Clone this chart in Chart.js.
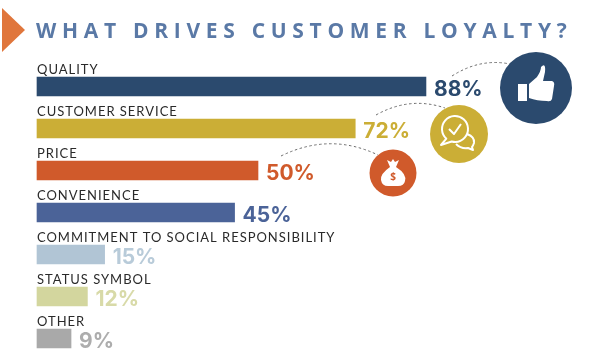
<!DOCTYPE html>
<html>
<head>
<meta charset="utf-8">
<style>
  html, body { margin: 0; padding: 0; background: #fff; }
  #wrap { width: 602px; height: 352px; }
</style>
<script src="https://cdn.jsdelivr.net/npm/chart.js@4"></script>
</head>
<body>
<div id="wrap"><canvas id="loyaltyChart" width="602" height="352"></canvas></div>
<script>
const titleText = "WHAT DRIVES CUSTOMER LOYALTY?";
const categories = ["QUALITY", "CUSTOMER SERVICE", "PRICE", "CONVENIENCE", "COMMITMENT TO SOCIAL RESPONSIBILITY", "STATUS SYMBOL", "OTHER"];
// printed percentages
const percentLabels = ["88%", "72%", "50%", "45%", "15%", "12%", "9%"];
// bar lengths as drawn, the small bars are shorter than their printed numbers
const barLengths = [88, 72, 50, 44.7, 15.3, 11.4, 7.7];
const barColors = ["#2b4a6e", "#cbae36", "#d05a2b", "#4b6398", "#b1c5d5", "#d3d69e", "#a9a9a9"];
const labelColors = ["#2b4a6e", "#cbae36", "#d05a2b", "#4b6398", "#b8cbd9", "#d8daa8", "#adadad"];

function dashedArc(ctx, x0, y0, cx, cy, x1, y1) {
  ctx.save();
  ctx.strokeStyle = "#6b6b6b";
  ctx.lineWidth = 1;
  ctx.setLineDash([2.5, 2.5]);
  ctx.beginPath();
  ctx.moveTo(x0, y0);
  ctx.quadraticCurveTo(cx, cy, x1, y1);
  ctx.stroke();
  ctx.restore();
}

function circle(ctx, x, y, r, color) {
  ctx.fillStyle = color;
  ctx.beginPath();
  ctx.arc(x, y, r, 0, Math.PI * 2);
  ctx.fill();
}

function drawThumb(ctx) {
  circle(ctx, 536, 88, 36, barColors[0]);
  ctx.fillStyle = "#fff";
  ctx.fillRect(518, 84, 9, 17);
  ctx.beginPath();
  ctx.moveTo(529, 84);
  ctx.lineTo(537, 77);
  ctx.quadraticCurveTo(541, 71, 541, 67);
  ctx.quadraticCurveTo(546, 62, 545, 72);
  ctx.lineTo(543, 81);
  ctx.lineTo(552, 81);
  ctx.quadraticCurveTo(555, 82, 554, 86);
  ctx.lineTo(552, 99);
  ctx.quadraticCurveTo(551, 102, 547, 101);
  ctx.quadraticCurveTo(537, 101, 529, 98);
  ctx.closePath();
  ctx.fill();
}

function drawChat(ctx) {
  circle(ctx, 459, 134, 29, barColors[1]);
  ctx.strokeStyle = "#fff";
  ctx.lineWidth = 2;
  ctx.lineJoin = "round";
  // rear bubble
  ctx.beginPath();
  ctx.moveTo(467, 134);
  ctx.quadraticCurveTo(475, 137, 474, 143);
  ctx.quadraticCurveTo(473, 146, 472, 147);
  ctx.lineTo(473, 150);
  ctx.lineTo(468, 148);
  ctx.quadraticCurveTo(461, 149, 456, 144);
  ctx.stroke();
  // front bubble, masked over the rear one
  ctx.fillStyle = barColors[1];
  ctx.beginPath();
  ctx.arc(455, 129, 13, 2.3, 2.3 + Math.PI * 1.85);
  ctx.lineTo(441, 145);
  ctx.closePath();
  ctx.fill();
  ctx.stroke();
  ctx.beginPath();
  ctx.moveTo(449, 129);
  ctx.lineTo(454, 134);
  ctx.lineTo(461, 124);
  ctx.stroke();
}

function drawBag(ctx) {
  circle(ctx, 393, 173, 23.5, barColors[2]);
  ctx.fillStyle = "#fff";
  ctx.beginPath();
  ctx.moveTo(387, 160);
  ctx.lineTo(391, 162);
  ctx.lineTo(393, 159);
  ctx.lineTo(395, 162);
  ctx.lineTo(399, 160);
  ctx.lineTo(396, 167);
  ctx.quadraticCurveTo(407, 174, 405, 181);
  ctx.quadraticCurveTo(404, 186, 398, 186);
  ctx.lineTo(388, 186);
  ctx.quadraticCurveTo(382, 186, 381, 180);
  ctx.quadraticCurveTo(380, 174, 390, 167);
  ctx.closePath();
  ctx.fill();
  ctx.fillStyle = barColors[2];
  ctx.font = "bold 10px 'Open Sans'";
  ctx.textAlign = "center";
  ctx.textBaseline = "middle";
  ctx.fillText("$", 393, 177);
}

const decorPlugin = {
  id: "decor",
  afterDraw(chart) {
    const ctx = chart.ctx;
    const xs = chart.scales.x;
    const ys = chart.scales.y;
    ctx.save();

    // title and arrow
    ctx.fillStyle = "#e0763c";
    ctx.beginPath();
    ctx.moveTo(2, 8);
    ctx.lineTo(25, 30);
    ctx.lineTo(2, 52);
    ctx.closePath();
    ctx.fill();
    ctx.fillStyle = "#5a79a6";
    ctx.font = "bold 21px 'Open Sans'";
    ctx.textAlign = "left";
    ctx.textBaseline = "alphabetic";
    ctx.letterSpacing = "5.7px";
    ctx.fillText(titleText, 36, 38);

    // category names above bars, percentages after them
    categories.forEach((name, i) => {
      const y = ys.getPixelForValue(i);
      ctx.fillStyle = "#2a2a2a";
      ctx.font = "13px Lato";
      ctx.letterSpacing = "0.98px";
      ctx.fillText(name, 37, y - 13);
      ctx.fillStyle = labelColors[i];
      ctx.font = "bold 21px Inter";
      ctx.letterSpacing = "0px";
      ctx.fillText(percentLabels[i], xs.getPixelForValue(barLengths[i]) + 8, y + 9);
    });
    ctx.letterSpacing = "0px";

    dashedArc(ctx, 452, 76, 480, 58, 510, 64);
    dashedArc(ctx, 376, 115, 410, 96, 445, 108);
    dashedArc(ctx, 281, 156, 330, 132, 378, 155);
    drawThumb(ctx);
    drawChat(ctx);
    drawBag(ctx);
    ctx.restore();
  },
};

new Chart(document.getElementById("loyaltyChart"), {
  type: "bar",
  data: {
    labels: categories,
    datasets: [
      {
        data: barLengths,
        backgroundColor: barColors,
        barThickness: 19,
        clip: false,
      },
    ],
  },
  options: {
    indexAxis: "y",
    responsive: false,
    animation: false,
    layout: { padding: { left: 37, right: 123, top: 86.5, bottom: 13.5 } },
    plugins: { legend: { display: false }, tooltip: { enabled: false } },
    scales: {
      x: { display: false, min: 0, max: 100 },
      y: { display: false, offset: false },
    },
  },
  plugins: [decorPlugin],
});
</script>
</body>
</html>
